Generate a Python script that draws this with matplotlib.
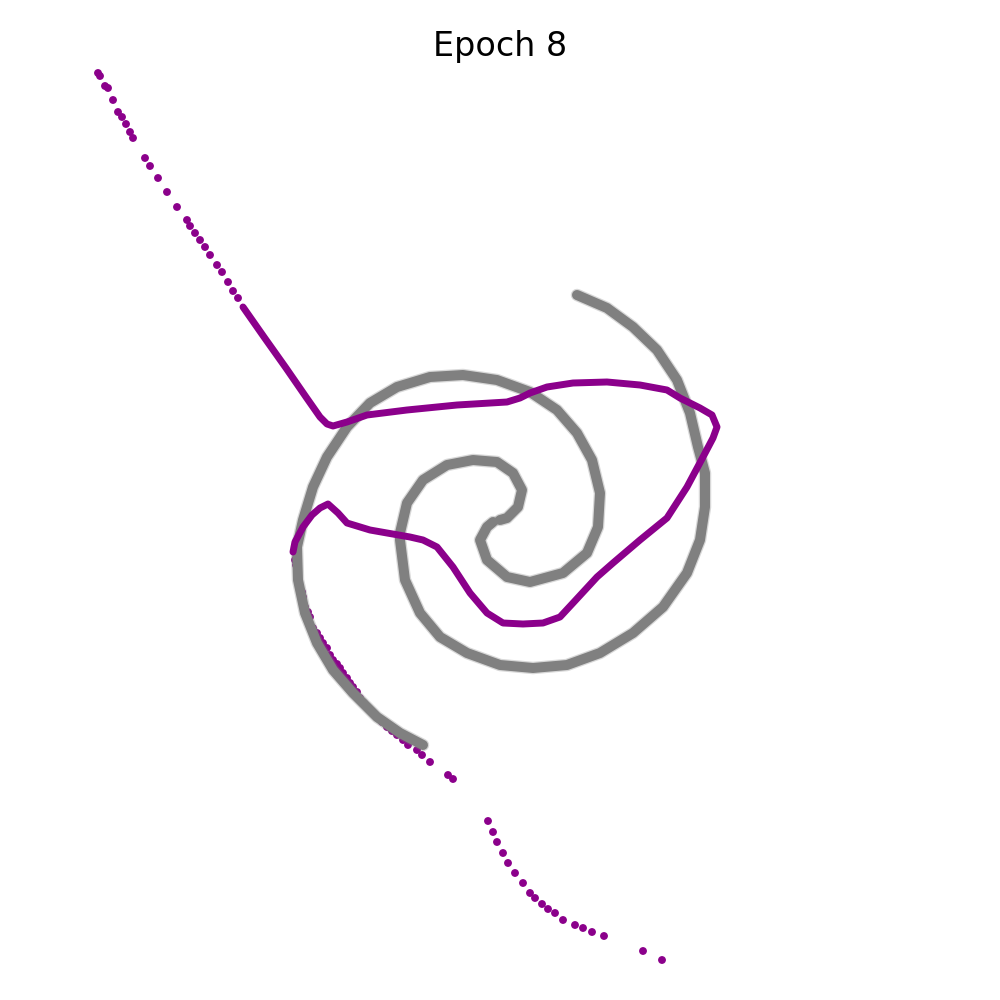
import matplotlib.pyplot as plt

# spiral data (grey), two arms meeting in the middle
arm_a_x = [5.00, 5.07, 5.18, 5.22, 5.13, 4.97, 4.73, 4.47, 4.23, 4.07, 4.00, 4.00, 4.05, 4.20,
           4.40, 4.67, 5.00, 5.33, 5.67, 6.00, 6.33, 6.63, 6.87, 7.00, 7.05, 7.05, 6.98,
           6.90, 6.77, 6.57, 6.33, 6.07, 5.77]
arm_a_y = [5.20, 5.18, 5.07, 4.90, 4.73, 4.62, 4.60, 4.65, 4.80, 5.03, 5.33, 5.40, 5.80, 6.13,
           6.37, 6.53, 6.65, 6.68, 6.65, 6.53, 6.33, 6.07, 5.73, 5.40, 5.07, 4.73, 4.47,
           4.13, 3.80, 3.50, 3.27, 3.08, 2.95]
arm_b_x = [4.93, 4.87, 4.80, 4.87, 5.07, 5.30, 5.63, 5.87, 5.98, 6.00, 5.92, 5.77, 5.57, 5.30,
           4.97, 4.63, 4.30, 3.97, 3.70, 3.47, 3.27, 3.13, 3.03, 2.97, 2.98, 3.05, 3.17, 3.33,
           3.53, 3.77, 4.00, 4.23]
arm_b_y = [5.22, 5.27, 5.40, 5.60, 5.77, 5.82, 5.73, 5.53, 5.27, 4.93, 4.60, 4.33, 4.10, 3.92,
           3.80, 3.75, 3.77, 3.87, 4.03, 4.27, 4.57, 4.87, 5.20, 5.47, 5.80, 6.13, 6.43, 6.70,
           6.93, 7.17, 7.33, 7.45]

# model output (purple), dense part
line_x = [2.43, 2.64, 2.86, 3.06, 3.20, 3.27, 3.33, 3.40, 3.47, 3.67, 4.07, 4.57, 5.07, 5.20,
          5.30, 5.47, 5.73, 6.07, 6.40, 6.67, 6.80, 7.00, 7.12, 7.17, 7.13, 7.03, 6.87, 6.67,
          6.40, 6.13, 5.97, 5.73, 5.60, 5.43, 5.23, 5.03, 4.87, 4.70, 4.53, 4.37, 4.23, 4.10,
          3.87, 3.70, 3.47, 3.38, 3.28, 3.20, 3.12, 3.03, 2.95, 2.93]
line_y = [3.07, 3.37, 3.68, 3.97, 4.17, 4.24, 4.26, 4.24, 4.22, 4.15, 4.10, 4.05, 4.02, 3.98,
          3.93, 3.87, 3.83, 3.82, 3.85, 3.90, 3.98, 4.08, 4.15, 4.27, 4.38, 4.57, 4.87, 5.18,
          5.40, 5.63, 5.77, 6.03, 6.17, 6.23, 6.24, 6.23, 6.13, 5.93, 5.67, 5.47, 5.40, 5.37,
          5.33, 5.30, 5.23, 5.13, 5.04, 5.08, 5.15, 5.27, 5.42, 5.52]

# model output (purple), scattered points
dots_x = [0.98, 1.00, 1.05, 1.08, 1.13, 1.18, 1.22, 1.26, 1.30, 1.33,
          1.45, 1.50, 1.58, 1.67, 1.77, 1.87, 1.90, 1.95, 2.00, 2.05, 2.10, 2.17, 2.22, 2.28,
          2.33, 2.38,
          2.95, 2.96, 2.97, 2.98, 2.99, 3.00, 3.02, 3.03, 3.05, 3.08, 3.10, 3.13, 3.17, 3.20,
          3.23, 3.27, 3.30, 3.33, 3.37, 3.40, 3.43, 3.47, 3.50, 3.53, 3.57, 3.60, 3.64, 3.68,
          3.72, 3.77, 3.82, 3.87, 3.92, 3.97, 4.03, 4.08, 4.17, 4.22, 4.30,
          4.48, 4.53, 4.88, 4.93, 4.97, 5.03, 5.08, 5.15, 5.23, 5.30, 5.35, 5.42, 5.48, 5.55,
          5.63, 5.75, 5.83, 5.92, 6.04, 6.43, 6.62]
dots_y = [0.73, 0.76, 0.86, 0.88, 1.00, 1.12, 1.17, 1.24, 1.32, 1.38,
          1.58, 1.66, 1.78, 1.92, 2.07, 2.20, 2.26, 2.33, 2.40, 2.47, 2.55, 2.65, 2.72, 2.82,
          2.91, 2.98,
          5.60, 5.65, 5.70, 5.77, 5.82, 5.87, 5.92, 5.97, 6.07, 6.12, 6.17, 6.28, 6.33, 6.38,
          6.43, 6.48, 6.55, 6.60, 6.64, 6.68, 6.73, 6.78, 6.83, 6.87, 6.92, 6.98, 7.03, 7.08,
          7.12, 7.17, 7.22, 7.27, 7.31, 7.35, 7.40, 7.45, 7.50, 7.55, 7.62,
          7.75, 7.79, 8.21, 8.32, 8.42, 8.53, 8.63, 8.73, 8.83, 8.93, 8.98, 9.04, 9.09, 9.13,
          9.20, 9.25, 9.28, 9.32, 9.36, 9.51, 9.60]

fig = plt.figure(figsize=(10, 10), dpi=100)
ax = fig.add_axes([0, 0, 1, 1])

for xs, ys in [(arm_a_x, arm_a_y), (arm_b_x, arm_b_y)]:
    ax.plot(xs, ys, color="grey", lw=9, alpha=0.3, solid_capstyle="round", solid_joinstyle="round")
    ax.plot(xs, ys, color="grey", lw=7.2, solid_capstyle="round", solid_joinstyle="round")

ax.plot(line_x, line_y, color="darkmagenta", lw=5, solid_capstyle="round", solid_joinstyle="round")
ax.scatter(dots_x, dots_y, s=32, color="darkmagenta", edgecolors="none")

ax.set_xlim(0, 10)
ax.set_ylim(10, 0)
ax.axis("off")
ax.text(0.5, 0.944, "Epoch 8", transform=ax.transAxes, ha="center", va="baseline", fontsize=24)

plt.savefig("out.png")
